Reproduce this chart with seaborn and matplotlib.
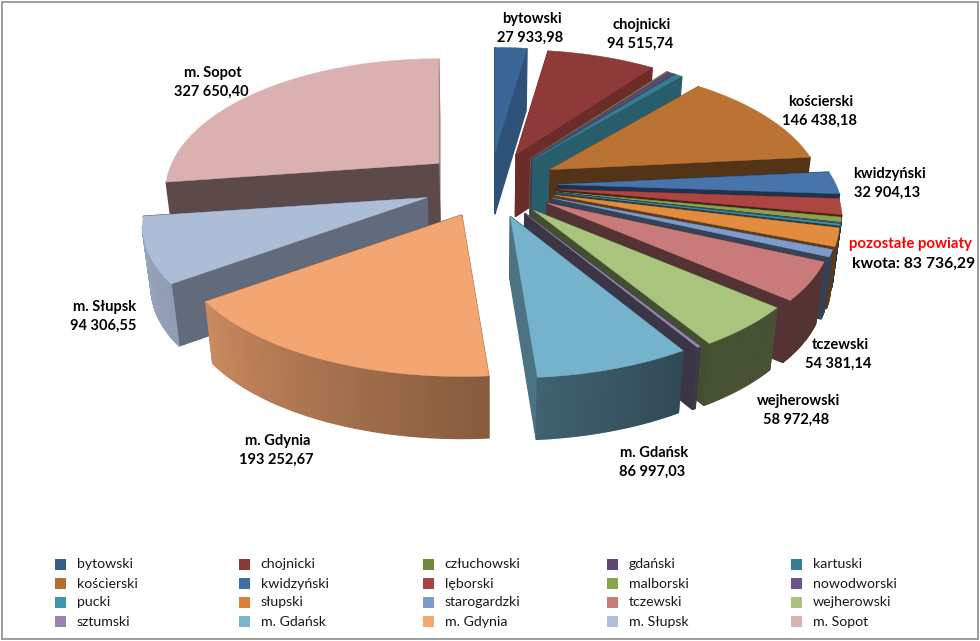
import numpy as np
import pandas as pd
import seaborn as sns
import matplotlib.pyplot as plt
from matplotlib.patches import Rectangle

names = ['bytowski', 'chojnicki', 'człuchowski', 'gdański', 'kartuski',
         'kościerski', 'kwidzyński', 'lęborski', 'malborski', 'nowodworski',
         'pucki', 'słupski', 'starogardzki', 'tczewski', 'wejherowski',
         'sztumski', 'm. Gdańsk', 'm. Gdynia', 'm. Słupsk', 'm. Sopot']
# the ten small counties have no label, estimated so they add up to 83 736,29
values = [27933.98, 94515.74, 1200, 5000, 6000,
          146438.18, 32904.13, 23000, 7000, 1400,
          2000, 26000, 10136.29, 54381.14, 58972.48,
          2000, 86997.03, 193252.67, 94306.55, 327650.40]
colors = ['#3A6698', '#8E3A38', '#71893F', '#5C4776', '#357D91',
          '#BA7333', '#4674AB', '#AD4542', '#86A44A', '#6E548D',
          '#3E97AB', '#E38B3E', '#7E9CCB', '#C97A7A', '#A9C47C',
          '#9784B0', '#75B2CC', '#F4A672', '#ADBDD8', '#DBB0B0']
legend_colors = ['#385D8A', '#8C3836', '#71893F', '#5C4776', '#357D91',
                 '#B66D31', '#426DA1', '#A74340', '#86A44A', '#6E548D',
                 '#3E97AB', '#DA8137', '#7C9CC8', '#C97B7A', '#A9C27D',
                 '#9784B0', '#77B5CB', '#F5A972', '#B0C0DA', '#D9B3B3']
other_label = 'pozostałe powiaty'
other_value = 83736.29

label_pos = {'bytowski': (532, 27), 'chojnicki': (642, 33), 'kościerski': (821, 110),
             'kwidzyński': (889, 182), 'tczewski': (840, 353), 'wejherowski': (798, 409),
             'm. Gdańsk': (654, 461), 'm. Gdynia': (278, 449), 'm. Słupsk': (105, 315),
             'm. Sopot': (213, 81)}

# projection of the tilted pie, in pixels
cx, cy = 490, 185
ex, ey = 68, 33
A, B, k = 278, 127, 0.2135
H, shrink = 62, 0.975


def money(v):
    s = f'{v:,.2f}'
    return s.replace(',', ' ').replace('.', ',')


def shade(c, f):
    r = np.array(plt.matplotlib.colors.to_rgb(c))
    return tuple(r * f)


def rim(th, sx):
    t = np.radians(th)
    p = 1 / (1 + k * np.cos(t))
    return sx * A * np.sin(t) * p, -B * np.cos(t) * p


def drop(pt):
    return cx + (pt[0] - cx) * shrink, pt[1] + H


def face_f(th):
    return np.interp(th, [0, 40, 84, 150, 176, 233, 262, 360],
                     [.8, .75, .45, .4, .65, .57, .42, .75])


def wall_f(th):
    return np.interp(th, [90, 150, 176, 233, 262], [.42, .42, .55, .83, .88])


def side(ax, p, q, color):
    ax.fill(*zip(p, q, drop(q), drop(p)), color=color, lw=1, zorder=z[0])
    z[0] += 1


sns.set_theme(style='white')
plt.rcParams['font.family'] = ['Lato', 'DejaVu Sans']
fig, ax = plt.subplots(figsize=(9.8, 6.41), dpi=100)
ax.set_position([0, 0, 1, 1])
ax.set_xlim(0, 980)
ax.set_ylim(641, 0)
ax.axis('off')

ax.add_patch(Rectangle((1.5, 2), 976, 636.5, fill=False, ec='#8c8c8c', lw=1.2))

z = [2]
total = sum(values)
edges = np.cumsum([0] + values) / total * 360
slices = []
for i in range(len(values)):
    mid = (edges[i] + edges[i + 1]) / 2
    slices.append((np.cos(np.radians(mid)), i, mid))

# far slices first, nearer ones paint over them
for depth, i, mid in sorted(slices, reverse=True):
    t0, t1 = edges[i], edges[i + 1]
    m = np.radians(mid)
    ax0 = cx + ex * np.sin(m)
    ay0 = cy - ey * np.cos(m)
    apex = (ax0, ay0)
    # pushed back slices look a bit smaller
    sx = .96 if depth > .3 else 1
    ths = np.linspace(t0, t1, max(3, int((t1 - t0) * 2) + 2))
    arc = [(ax0 + rim(t, sx)[0], ay0 + rim(t, sx)[1]) for t in ths]
    # back faces
    if not arc[0][0] < ax0:
        side(ax, apex, arc[0], shade(colors[i], face_f(t0)))
    if not ax0 < arc[-1][0]:
        side(ax, arc[-1], apex, shade(colors[i], face_f(t1)))
    # front faces
    if arc[0][0] < ax0:
        side(ax, apex, arc[0], shade(colors[i], face_f(t0)))
    if ax0 < arc[-1][0]:
        side(ax, arc[-1], apex, shade(colors[i], face_f(t1)))
    for a, b, ta in zip(arc[:-1], arc[1:], ths[:-1]):
        if b[0] < a[0]:
            side(ax, a, b, shade(colors[i], wall_f(ta)))
    poly = [apex] + arc
    ax.fill(*zip(*poly), color=colors[i], lw=0.3, zorder=z[0])
    z[0] += 1

for name, (x, y) in label_pos.items():
    v = values[names.index(name)]
    ax.text(x, y - 8, name, ha='center', va='center', fontsize=10.5,
            fontweight='bold', color='black', zorder=200)
    ax.text(x - 2, y + 11, money(v), ha='center', va='center', fontsize=10.5,
            fontweight='bold', color='black', zorder=200)
ax.text(910, 244, other_label, ha='center', va='center', fontsize=10.8,
        fontweight='bold', color='#FF0000', zorder=200)
ax.text(914, 264, 'kwota: ' + money(other_value), ha='center', va='center', fontsize=11.3,
        fontweight='bold', color='black', zorder=200)

# legend: 5 columns, filled row by row
leg = pd.DataFrame({'name': names,
                    'x': [60.5 + 184 * (n % 5) for n in range(20)],
                    'y': [564.5 + 19 * (n // 5) for n in range(20)]})
sns.scatterplot(data=leg, x='x', y='y', hue='name', palette=legend_colors, marker='s',
                s=55, linewidth=0, legend=False, ax=ax, zorder=200)
ax.set_xlim(0, 980)
ax.set_ylim(641, 0)
ax.axis('off')
for _, row in leg.iterrows():
    ax.text(row['x'] + 16, row['y'], row['name'], ha='left', va='center', fontsize=10.2,
            color='#1a1a1a', zorder=200)

fig.savefig('out.png', dpi=100)
